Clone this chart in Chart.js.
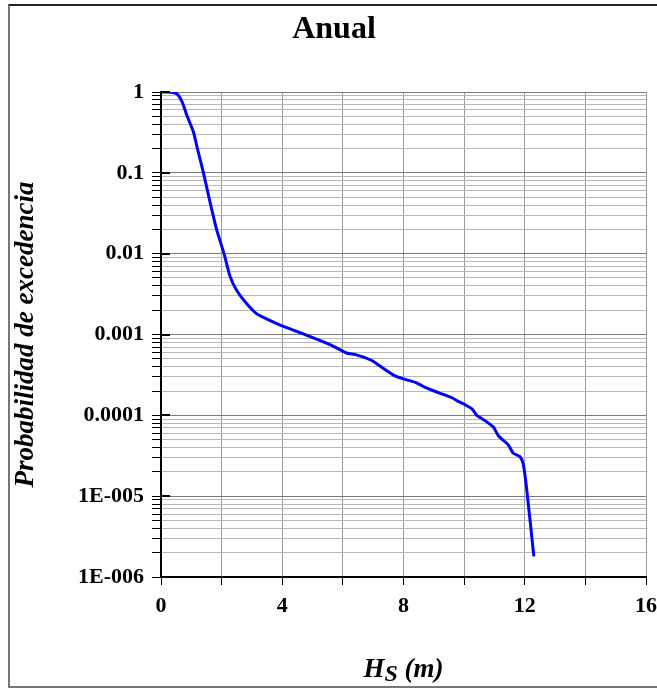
<!DOCTYPE html>
<html lang="es">
<head>
    <meta charset="UTF-8">
    <title>Anual</title>
    <script src="https://cdn.jsdelivr.net/npm/chart.js"></script>
    <style>
        body {
            margin: 0;
            background-color: #ffffff;
        }

        .wrap {
            position: relative;
            width: 657px;
            height: 688px;
            overflow: hidden;
        }

        .frame {
            position: absolute;
            left: 8px;
            top: 4px;
            width: 700px;
            height: 680px;
            border-left: 2px solid #777777;
            border-top: 2px solid #222222;
            border-bottom: 2px solid #777777;
            pointer-events: none;
        }
    </style>
</head>
<body>
    <div class="wrap">
        <canvas id="chart" width="657" height="688"></canvas>
        <div class="frame"></div>
    </div>

    <script>
        // Hs (m) y probabilidad de excedencia anual
        const hs = [0, 0.2, 0.4, 0.55, 0.7, 0.85, 1.07, 1.2, 1.4, 1.62, 1.84, 2.08, 2.28, 2.5, 2.83, 3.16,
            3.5, 3.93, 4.4, 4.9, 5.58, 6.12, 6.45, 6.94, 7.21, 7.7, 8.03, 8.41, 8.73, 9.17, 9.6, 9.77,
            9.99, 10.26, 10.42, 10.69, 10.97, 11.13, 11.46, 11.62, 11.84, 11.95, 12.06, 12.3];
        const excedencia = [1, 1, 0.985, 0.93, 0.75, 0.52, 0.32, 0.2, 0.1, 0.043, 0.0195, 0.01, 0.0052, 0.0035, 0.0024, 0.0018,
            0.00155, 0.00131, 0.00112, 0.00095, 0.00075, 0.00059, 0.00056, 0.00048, 0.00041, 0.00031, 0.00028, 0.000254, 0.00022, 0.00019, 0.000165, 0.000151,
            0.000138, 0.00012, 0.0001, 0.000086, 0.000071, 0.000056, 0.000043, 0.000034, 0.000031, 0.000025, 0.0000126, 0.0000018];

        const yDecades = [-6, -5, -4, -3, -2, -1, 0];
        const yTickLabels = ['1E-006', '1E-005', '0.0001', '0.001', '0.01', '0.1', '1'];
        const xLabels = ['0', '4', '8', '12', '16'];

        const serif = "'Liberation Serif', 'Times New Roman', serif";

        function decadeIndex(v) {
            const e = Math.log10(v);
            if (Math.abs(e - Math.round(e)) > 1e-9) return -1;
            return yDecades.indexOf(Math.round(e));
        }

        // titulo, titulo del eje X con subindice y marcas interiores de las decadas
        const extras = {
            id: 'extras',
            afterDraw(chart) {
                const ctx = chart.ctx;
                const area = chart.chartArea;
                const yScale = chart.scales.y;
                ctx.save();

                ctx.strokeStyle = '#000';
                ctx.lineWidth = 2;
                yDecades.forEach(e => {
                    const py = Math.round(yScale.getPixelForValue(Math.pow(10, e)));
                    ctx.beginPath();
                    ctx.moveTo(area.left, py);
                    ctx.lineTo(area.left + 9, py);
                    ctx.stroke();
                });

                ctx.fillStyle = '#000';
                ctx.textBaseline = 'alphabetic';
                ctx.textAlign = 'center';
                ctx.font = 'bold 32px ' + serif;
                ctx.fillText('Anual', 334, 38);

                const parts = [
                    { t: 'H', f: 'italic bold 27px ' + serif, dy: 0 },
                    { t: 'S', f: 'italic bold 24px ' + serif, dy: 4 },
                    { t: ' (m)', f: 'italic bold 27px ' + serif, dy: 0 }
                ];
                let total = 0;
                parts.forEach(p => { ctx.font = p.f; p.w = ctx.measureText(p.t).width; total += p.w; });
                let x = (area.left + area.right) / 2 - total / 2;
                ctx.textAlign = 'left';
                parts.forEach(p => {
                    ctx.font = p.f;
                    ctx.fillText(p.t, x, 677 + p.dy);
                    x += p.w;
                });
                ctx.restore();
            }
        };

        new Chart(document.getElementById('chart'), {
            type: 'line',
            data: {
                datasets: [{
                    data: hs.map((v, i) => ({ x: v, y: excedencia[i] })),
                    borderColor: '#0000ff',
                    borderWidth: 3,
                    pointRadius: 0,
                    tension: 0.2,
                    fill: false
                }]
            },
            options: {
                responsive: false,
                animation: false,
                layout: { padding: { top: 92, right: 11, left: 0, bottom: 0 } },
                plugins: {
                    legend: { display: false },
                    title: { display: false },
                    tooltip: { enabled: false }
                },
                scales: {
                    x: {
                        type: 'linear',
                        min: 0,
                        max: 16,
                        afterFit: s => {
                            s.height = 111;
                            s.paddingLeft = 0;
                            s.paddingRight = 0;
                        },
                        ticks: {
                            stepSize: 2,
                            autoSkip: false,
                            maxRotation: 0,
                            padding: 8,
                            color: '#000',
                            font: { family: serif, size: 22, weight: 'bold' },
                            callback: v => (v % 4 === 0 ? xLabels[v / 4] : '')
                        },
                        grid: { color: '#9a9a9a', tickColor: '#000', tickLength: 8, lineWidth: 1 },
                        border: { display: true, color: '#000', width: 2 }
                    },
                    y: {
                        type: 'logarithmic',
                        min: 1e-6,
                        max: 1,
                        afterFit: s => {
                            s.width = 161;
                            s.paddingTop = 0;
                            s.paddingBottom = 0;
                        },
                        afterBuildTicks: s => {
                            const ticks = [];
                            yDecades.forEach(e => {
                                for (let m = 1; m <= 9; m++) {
                                    if (e === 0 && m > 1) break;
                                    ticks.push({ value: m * Math.pow(10, e), major: m === 1 });
                                }
                            });
                            s.ticks = ticks;
                        },
                        ticks: {
                            autoSkip: false,
                            padding: 8,
                            color: '#000',
                            font: { family: serif, size: 22, weight: 'bold' },
                            callback: v => {
                                const i = decadeIndex(v);
                                return i >= 0 ? yTickLabels[i] : '';
                            }
                        },
                        grid: {
                            color: c => (c.tick && decadeIndex(c.tick.value) >= 0 ? '#7a7a7a' : '#b8b8b8'),
                            tickColor: '#000',
                            tickLength: 9,
                            lineWidth: 1
                        },
                        border: { display: true, color: '#000', width: 2 },
                        title: {
                            display: true,
                            text: 'Probabilidad de excedencia',
                            color: '#000',
                            padding: { top: 10, bottom: 0 },
                            font: { family: serif, size: 27, weight: 'bold', style: 'italic' }
                        }
                    }
                }
            },
            plugins: [extras]
        });
    </script>
</body>
</html>
